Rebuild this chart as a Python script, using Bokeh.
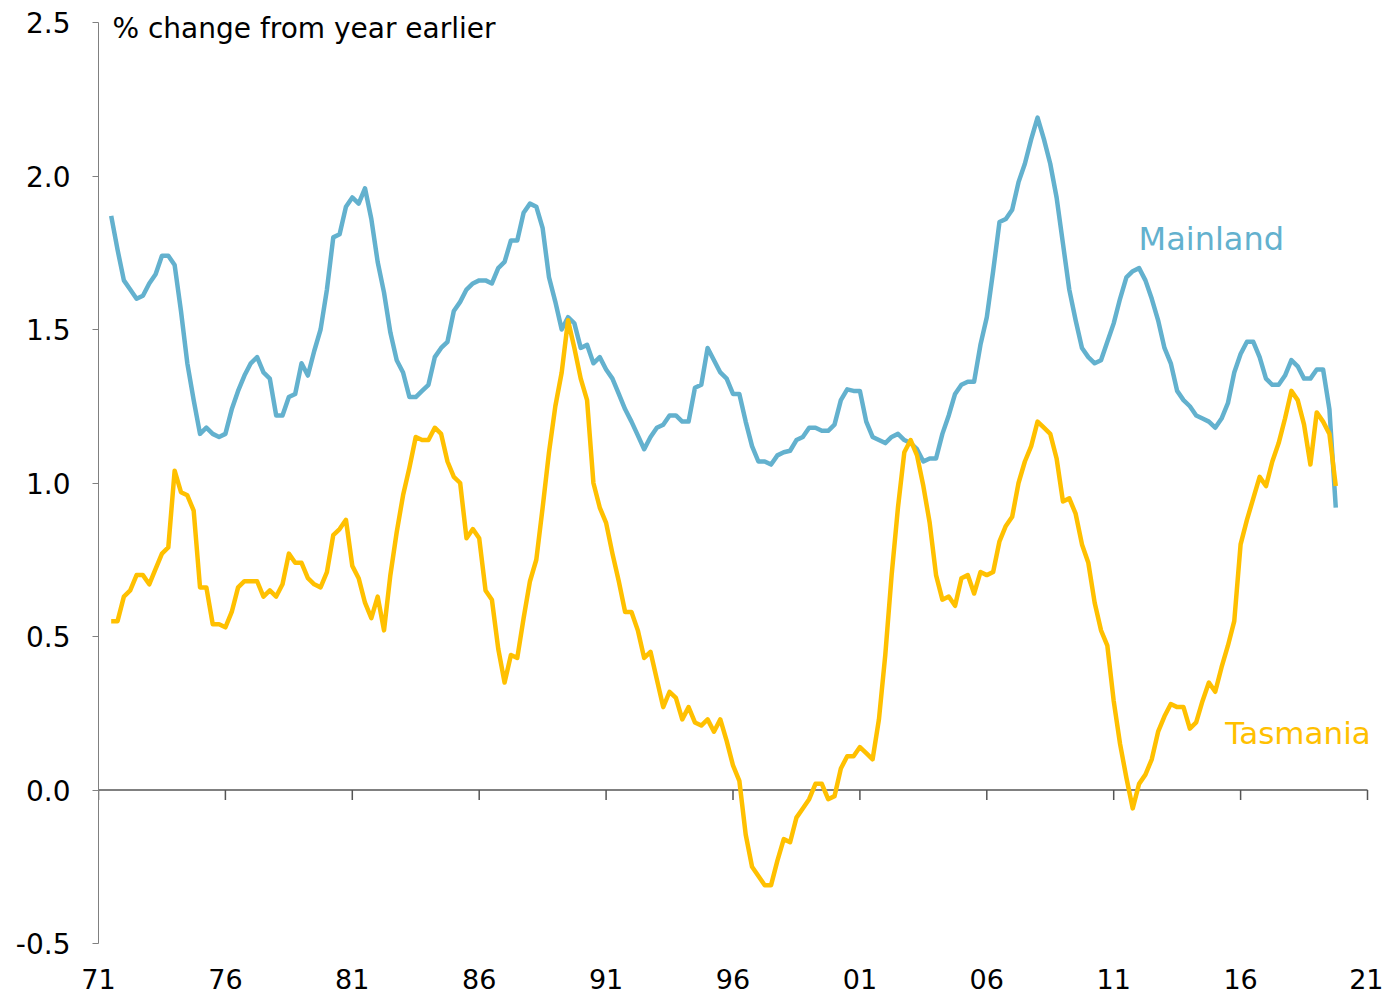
from bokeh.plotting import figure
from bokeh.models import FixedTicker, Label, Range1d
from bokeh.embed import file_html
from bokeh.resources import INLINE

# ---------------- data ----------------
start_year = 1971.5  # first quarter plotted (quarterly data)

mainland = [
    1.87, 1.76, 1.66, 1.63, 1.60, 1.61, 1.65, 1.68, 1.74, 1.74,
    1.71, 1.56, 1.39, 1.27, 1.16, 1.18, 1.16, 1.15, 1.16, 1.24,
    1.30, 1.35, 1.39, 1.41, 1.36, 1.34, 1.22, 1.22, 1.28, 1.29,
    1.39, 1.35, 1.43, 1.50, 1.63, 1.80, 1.81, 1.90, 1.93, 1.91,
    1.96, 1.86, 1.72, 1.62, 1.49, 1.40, 1.36, 1.28, 1.28, 1.30,
    1.32, 1.41, 1.44, 1.46, 1.56, 1.59, 1.63, 1.65, 1.66, 1.66,
    1.65, 1.70, 1.72, 1.79, 1.79, 1.88, 1.91, 1.90, 1.83, 1.67,
    1.59, 1.50, 1.54, 1.52, 1.44, 1.45, 1.39, 1.41, 1.37, 1.34,
    1.29, 1.24, 1.20, 1.155, 1.11, 1.15, 1.18, 1.19, 1.22, 1.22,
    1.20, 1.20, 1.31, 1.32, 1.44, 1.40, 1.36, 1.34, 1.29, 1.29,
    1.20, 1.12, 1.07, 1.07, 1.06, 1.09, 1.10, 1.105, 1.14, 1.15,
    1.18, 1.18, 1.17, 1.17, 1.19, 1.27, 1.305, 1.30, 1.30, 1.20,
    1.15, 1.14, 1.13, 1.15, 1.16, 1.14, 1.13, 1.11, 1.07, 1.08,
    1.08, 1.16, 1.22, 1.29, 1.32, 1.33, 1.33, 1.45, 1.54, 1.69,
    1.85, 1.86, 1.89, 1.98, 2.04, 2.12, 2.19, 2.12, 2.04, 1.93,
    1.78, 1.63, 1.53, 1.44, 1.41, 1.39, 1.40, 1.46, 1.52, 1.60,
    1.67, 1.69, 1.70, 1.66, 1.60, 1.53, 1.44, 1.39, 1.30, 1.27,
    1.25, 1.22, 1.21, 1.20, 1.18, 1.21, 1.26, 1.36, 1.42, 1.46,
    1.46, 1.41, 1.34, 1.32, 1.32, 1.35, 1.40, 1.38, 1.34, 1.34,
    1.37, 1.37, 1.24, 0.92,
]

tasmania = [
    0.55, 0.55, 0.63, 0.65, 0.70, 0.70, 0.67, 0.72, 0.77, 0.79,
    1.04, 0.97, 0.96, 0.91, 0.66, 0.66, 0.54, 0.54, 0.53, 0.58,
    0.66, 0.68, 0.68, 0.68, 0.63, 0.65, 0.63, 0.67, 0.77, 0.74,
    0.74, 0.69, 0.67, 0.66, 0.71, 0.83, 0.85, 0.88, 0.73, 0.69,
    0.61, 0.56, 0.63, 0.52, 0.70, 0.84, 0.96, 1.05, 1.15, 1.14,
    1.14, 1.18, 1.16, 1.07, 1.02, 1.00, 0.82, 0.85, 0.82, 0.65,
    0.62, 0.46, 0.35, 0.44, 0.43, 0.56, 0.68, 0.75, 0.92, 1.10,
    1.25, 1.36, 1.53, 1.44, 1.34, 1.27, 1.00, 0.92, 0.87, 0.77,
    0.68, 0.58, 0.58, 0.52, 0.43, 0.45, 0.36, 0.27, 0.32, 0.30,
    0.23, 0.27, 0.22, 0.21, 0.23, 0.19, 0.23, 0.16, 0.08, 0.03,
    -0.145, -0.25, -0.28, -0.31, -0.31, -0.23, -0.16, -0.17, -0.09, -0.06,
    -0.03, 0.02, 0.02, -0.03, -0.02, 0.07, 0.11, 0.11, 0.14, 0.12,
    0.10, 0.23, 0.44, 0.70, 0.92, 1.10, 1.14, 1.09, 0.99, 0.87,
    0.70, 0.62, 0.63, 0.60, 0.69, 0.70, 0.64, 0.71, 0.70, 0.71,
    0.81, 0.86, 0.89, 1.00, 1.07, 1.12, 1.20, 1.18, 1.16, 1.08,
    0.94, 0.95, 0.90, 0.80, 0.74, 0.61, 0.52, 0.47, 0.29, 0.15,
    0.04, -0.06, 0.02, 0.05, 0.10, 0.19, 0.24, 0.28, 0.27, 0.27,
    0.20, 0.22, 0.29, 0.35, 0.32, 0.40, 0.47, 0.55, 0.80, 0.88,
    0.95, 1.02, 0.99, 1.07, 1.13, 1.21, 1.30, 1.27, 1.19, 1.06,
    1.23, 1.20, 1.16, 0.99,
]

quarters = [start_year + 0.25 * i for i in range(len(mainland))]

x_tick_years = [1971, 1976, 1981, 1986, 1991, 1996, 2001, 2006, 2011, 2016, 2021]
x_tick_labels = ["71", "76", "81", "86", "91", "96", "01", "06", "11", "16", "21"]
y_ticks = [-0.5, 0.0, 0.5, 1.0, 1.5, 2.0, 2.5]
y_tick_labels = ["-0.5", "0.0", "0.5", "1.0", "1.5", "2.0", "2.5"]

# ---------------- styling ----------------
FONT = "DejaVu Sans"
BLUE = "#63B1CE"
YELLOW = "#FFC000"
AXIS_GREY = "#808080"

X0, X1 = x_tick_years[0], x_tick_years[-1]
Y0, Y1 = y_ticks[0], y_ticks[-1]
# a little headroom/rightroom (in px) so annotations are not clipped by the frame
PX_PER_YEAR = 1269 / (X1 - X0)
PX_PER_UNIT = 921 / (Y1 - Y0)
EXTRA_TOP_PX, EXTRA_RIGHT_PX = 14, 6

p = figure(
    frame_width=1269 + EXTRA_RIGHT_PX, frame_height=921 + EXTRA_TOP_PX,
    min_border_left=98, min_border_right=10, min_border_top=8, min_border_bottom=58,
    x_range=Range1d(X0, X1 + EXTRA_RIGHT_PX / PX_PER_YEAR),
    y_range=Range1d(Y0, Y1 + EXTRA_TOP_PX / PX_PER_UNIT),
    output_backend="svg", toolbar_location=None,
)
p.outline_line_color = None
p.xgrid.grid_line_color = None
p.ygrid.grid_line_color = None
p.background_fill_color = "white"
p.border_fill_color = "white"

# y axis
p.yaxis.ticker = FixedTicker(ticks=y_ticks)
p.yaxis.bounds = (Y0, Y1)
p.yaxis.major_label_overrides = {t: l for t, l in zip(y_ticks, y_tick_labels)}
p.yaxis.axis_line_color = AXIS_GREY
p.yaxis.axis_line_width = 1
p.yaxis.major_tick_line_color = AXIS_GREY
p.yaxis.major_tick_out = 6
p.yaxis.major_tick_in = 0
p.yaxis.minor_tick_line_color = None
p.yaxis.major_label_standoff = 22
p.yaxis.major_label_text_font = FONT
p.yaxis.major_label_text_font_size = "28px"
p.yaxis.major_label_text_color = "#000000"

# x axis (labels only, at bottom)
p.xaxis.ticker = FixedTicker(ticks=x_tick_years)
p.xaxis.major_label_overrides = {t: l for t, l in zip(x_tick_years, x_tick_labels)}
p.xaxis.axis_line_color = None
p.xaxis.major_tick_line_color = None
p.xaxis.minor_tick_line_color = None
p.xaxis.major_tick_out = 0
p.xaxis.major_tick_in = 0
p.xaxis.major_label_standoff = 25
p.xaxis.major_label_text_font = FONT
p.xaxis.major_label_text_font_size = "27px"
p.xaxis.major_label_text_color = "#000000"

# zero line with tick marks hanging below it
p.segment(x0=[X0], y0=[0], x1=[X1], y1=[0], line_color=AXIS_GREY, line_width=2)
tick_len = 10 / PX_PER_UNIT
p.segment(x0=x_tick_years, y0=[0] * len(x_tick_years),
          x1=x_tick_years, y1=[-tick_len] * len(x_tick_years),
          line_color="#555555", line_width=1.5)

# series
p.line(quarters, mainland, line_color=BLUE, line_width=4.5, line_join="round")
p.line(quarters, tasmania, line_color=YELLOW, line_width=4.5, line_join="round")

# annotations
p.add_layout(Label(x=1971.55, y=2.482, text="% change from year earlier",
                   text_font=FONT, text_font_size="28px", text_color="#000000",
                   text_baseline="middle", text_align="left"))
p.add_layout(Label(x=2011.98, y=1.795, text="Mainland",
                   text_font=FONT, text_font_size="32px", text_color=BLUE,
                   text_baseline="middle", text_align="left"))
p.add_layout(Label(x=2015.4, y=0.186, text="Tasmania",
                   text_font=FONT, text_font_size="31px", text_color=YELLOW,
                   text_baseline="middle", text_align="left"))

open("out.html", "w").write(file_html(p, INLINE))
